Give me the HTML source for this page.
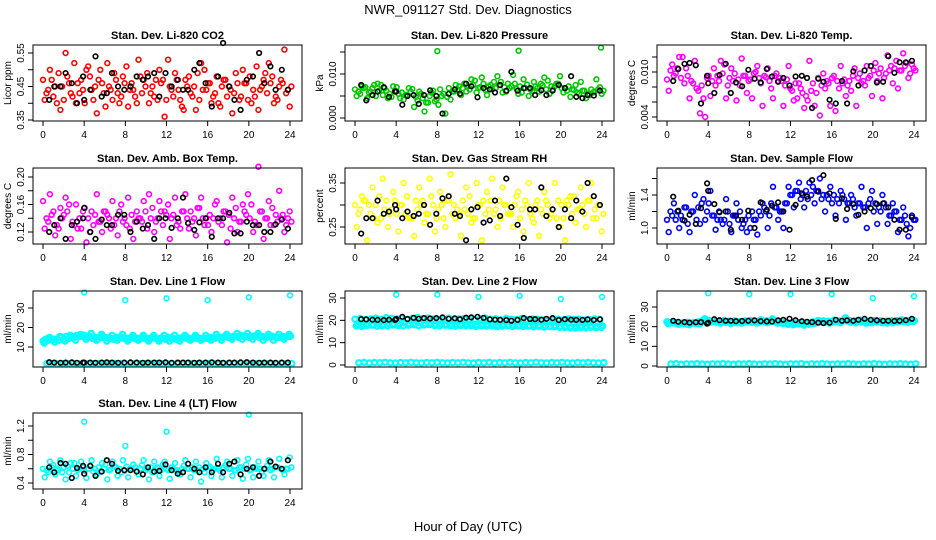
<!DOCTYPE html>
<html><head><meta charset="utf-8">
<style>
body{margin:0;background:#fff;}
svg{display:block;font-family:"Liberation Sans",sans-serif;}
</style></head>
<body>
<svg id="chart" width="936" height="540" viewBox="0 0 936 540" xmlns="http://www.w3.org/2000/svg">
<rect width="936" height="540" fill="#fff"/>
<text x="468" y="14" text-anchor="middle" font-size="13">NWR_091127  Std. Dev. Diagnostics</text>
<text x="468" y="531" text-anchor="middle" font-size="13">Hour of Day (UTC)</text>
</svg>
<script>
// ---------- data ----------
const hourTicks = [0,4,8,12,16,20,24];
const blackHours = [0.6,1.1,1.7,2.2,2.8,3.3,3.9,4.0,4.6,5.1,5.7,6.2,6.7,7.3,7.9,8.5,9.1,9.7,10.2,10.8,11.3,11.9,12.5,13.1,13.6,14.1,14.7,15.2,15.8,16.4,17.0,17.5,18.1,18.6,19.2,19.8,20.4,21.0,21.5,22.1,22.6,23.2,23.8];

const co2A = [0.47,0.44,0.42,0.49,0.41,0.46,0.52,0.43,0.40,0.48,0.45,0.50,0.39,0.44,0.47,0.42,0.51,0.46,0.40,0.43,0.49,0.45,0.41,0.47,0.53,0.42,0.44,0.38,0.48,0.45,0.41,0.50,0.46,0.43,0.39,0.47,0.44,0.49,0.42,0.46,0.40,0.51,0.45,0.43,0.48,0.41,0.46,0.44];
const co2B = [0.41,0.50,0.45,0.38,0.55,0.43,0.40,0.47,0.50,0.44,0.37,0.46,0.52,0.41,0.43,0.48,0.39,0.44,0.53,0.47,0.40,0.42,0.50,0.36,0.45,0.49,0.41,0.47,0.43,0.38,0.52,0.44,0.40,0.48,0.45,0.42,0.37,0.46,0.50,0.41,0.44,0.38,0.47,0.52,0.40,0.45,0.56,0.39];
const co2C = [0.43,0.47,0.40,0.45,0.48,0.42,0.46,0.44,0.51,0.41,0.47,0.43,0.45,0.49,0.40,0.46,0.44,0.42,0.48,0.45,0.43,0.47,0.46,0.41,0.44,0.47,0.39,0.45,0.42,0.49,0.44,0.46,0.42,0.40,0.47,0.45,0.43,0.41,0.46,0.48,0.42,0.44,0.49,0.46,0.42,0.47,0.43,0.45];
const co2Black = [0.41,0.45,0.45,0.49,0.46,0.40,0.48,0.41,0.44,0.54,0.42,0.43,0.49,0.45,0.44,0.45,0.48,0.47,0.48,0.49,0.42,0.49,0.45,0.47,0.44,0.44,0.50,0.52,0.46,0.39,0.48,0.58,0.45,0.41,0.38,0.47,0.48,0.55,0.46,0.51,0.44,0.50,0.44];

const presA = [0.0065,0.0055,0.007,0.006,0.005,0.0075,0.0062,0.0048,0.007,0.0058,0.0052,0.0066,0.004,0.0045,0.0035,0.0062,0.003,0.0055,0.0068,0.006,0.0072,0.0078,0.0065,0.0085,0.007,0.0064,0.0075,0.0068,0.0082,0.006,0.0072,0.0066,0.0058,0.0076,0.0062,0.0068,0.0074,0.0085,0.0065,0.0078,0.0058,0.0072,0.0064,0.0055,0.0062,0.0052,0.006,0.007];
const presB = [0.005,0.0072,0.0045,0.0068,0.0078,0.0052,0.0045,0.0072,0.0055,0.0042,0.0068,0.0025,0.006,0.0015,0.005,0.0038,0.0065,0.001,0.0042,0.0075,0.0052,0.006,0.0088,0.0058,0.0092,0.0052,0.0065,0.0095,0.0058,0.0078,0.0098,0.0055,0.0088,0.005,0.0082,0.006,0.0092,0.0055,0.0072,0.0095,0.0068,0.0048,0.0075,0.0082,0.0045,0.0065,0.0088,0.0055];
const presC = [0.006,0.0068,0.0058,0.0075,0.0062,0.0068,0.0055,0.0062,0.0045,0.0052,0.006,0.0048,0.0055,0.0035,0.0058,0.0042,0.005,0.0048,0.006,0.0065,0.0068,0.0072,0.0075,0.0068,0.0078,0.0072,0.0082,0.0075,0.007,0.0068,0.0078,0.0072,0.0068,0.0065,0.0072,0.0078,0.0065,0.0072,0.0078,0.0068,0.0062,0.0065,0.0058,0.0062,0.0055,0.0058,0.0065,0.0062];
const presBlack = [0.0075,0.004,0.0052,0.006,0.007,0.0048,0.006,0.006,0.003,0.005,0.0052,0.0032,0.0052,0.0063,0.005,0.001,0.0055,0.0065,0.0055,0.0078,0.0072,0.0047,0.0068,0.0065,0.0058,0.0075,0.0062,0.0105,0.0062,0.0068,0.0068,0.0052,0.0063,0.0052,0.0062,0.0075,0.0068,0.0095,0.0048,0.0045,0.0052,0.0051,0.0062];
const presOutHours = [8,15.9,23.9];
const presOutVals = [0.0152,0.0153,0.016];

const tempA = [0.009,0.011,0.0105,0.012,0.0095,0.0085,0.0075,0.0065,0.0095,0.0105,0.0088,0.011,0.0092,0.0098,0.0082,0.0095,0.009,0.01,0.0085,0.0093,0.0078,0.0098,0.0088,0.009,0.0075,0.0065,0.0072,0.0062,0.0085,0.0092,0.0098,0.0085,0.0095,0.0078,0.009,0.0088,0.0105,0.0098,0.0082,0.0095,0.0112,0.0105,0.0098,0.0108,0.0115,0.0102,0.0112,0.011];
const tempB = [0.0075,0.0095,0.012,0.0085,0.0065,0.0115,0.0045,0.004,0.0068,0.0082,0.0115,0.0065,0.0105,0.0062,0.0118,0.0072,0.0065,0.0108,0.0055,0.0105,0.0065,0.0088,0.0055,0.0108,0.0062,0.0085,0.0052,0.0115,0.0055,0.0042,0.0078,0.0055,0.0048,0.0108,0.0068,0.0075,0.0055,0.0085,0.0108,0.0068,0.0088,0.0065,0.0122,0.0085,0.0078,0.0125,0.0092,0.0105];
const tempC = [0.0102,0.0098,0.0092,0.0105,0.0088,0.0078,0.0082,0.0092,0.0088,0.0095,0.0098,0.0082,0.0088,0.009,0.0095,0.0088,0.0098,0.0092,0.0095,0.0088,0.0095,0.0092,0.0082,0.0078,0.0085,0.0078,0.0068,0.0075,0.0072,0.0082,0.0088,0.0092,0.0088,0.0085,0.0082,0.0095,0.0092,0.0088,0.0092,0.0102,0.0098,0.0092,0.0102,0.0105,0.0102,0.0108,0.0098,0.0102];
const tempBlack = [0.0088,0.0104,0.0111,0.0112,0.0109,0.0058,0.0095,0.0085,0.0072,0.0096,0.0111,0.0072,0.0086,0.0081,0.0103,0.0091,0.0086,0.0104,0.0094,0.0087,0.0092,0.0082,0.0094,0.0095,0.0092,0.0052,0.0091,0.0087,0.0063,0.0058,0.0088,0.0058,0.0101,0.0082,0.0102,0.0108,0.0086,0.0087,0.0121,0.0099,0.0113,0.0113,0.0115];

const ambA = [0.165,0.135,0.15,0.125,0.145,0.16,0.13,0.14,0.155,0.12,0.145,0.135,0.15,0.125,0.14,0.16,0.13,0.145,0.15,0.135,0.125,0.155,0.14,0.13,0.16,0.145,0.135,0.15,0.125,0.14,0.155,0.13,0.145,0.16,0.14,0.15,0.125,0.155,0.135,0.145,0.16,0.13,0.15,0.14,0.155,0.135,0.145,0.14];
const ambB = [0.125,0.175,0.115,0.155,0.17,0.11,0.16,0.125,0.105,0.15,0.175,0.12,0.145,0.165,0.115,0.135,0.17,0.11,0.14,0.165,0.175,0.12,0.165,0.15,0.11,0.17,0.125,0.175,0.15,0.115,0.17,0.14,0.12,0.165,0.13,0.105,0.17,0.12,0.16,0.175,0.12,0.215,0.11,0.165,0.13,0.18,0.12,0.15];
const ambC = [0.14,0.145,0.13,0.14,0.15,0.135,0.125,0.15,0.14,0.13,0.135,0.15,0.14,0.13,0.15,0.14,0.125,0.135,0.14,0.15,0.14,0.135,0.15,0.145,0.14,0.13,0.15,0.14,0.135,0.155,0.14,0.13,0.14,0.135,0.15,0.145,0.14,0.135,0.15,0.14,0.135,0.15,0.14,0.13,0.145,0.14,0.13,0.135];
const ambBlack = [0.12,0.13,0.14,0.11,0.13,0.135,0.14,0.155,0.12,0.11,0.138,0.13,0.13,0.145,0.145,0.12,0.135,0.125,0.13,0.11,0.14,0.14,0.126,0.14,0.17,0.133,0.123,0.134,0.14,0.113,0.14,0.14,0.148,0.118,0.118,0.135,0.13,0.13,0.12,0.12,0.131,0.138,0.125];

const rhA = [0.3,0.29,0.31,0.28,0.3,0.27,0.31,0.29,0.28,0.3,0.32,0.27,0.29,0.31,0.28,0.3,0.29,0.27,0.31,0.3,0.28,0.29,0.32,0.27,0.3,0.28,0.31,0.29,0.27,0.3,0.28,0.32,0.29,0.3,0.27,0.31,0.28,0.3,0.29,0.31,0.27,0.3,0.32,0.29,0.28,0.31,0.29,0.3];
const rhB = [0.25,0.32,0.22,0.34,0.26,0.36,0.25,0.33,0.24,0.35,0.27,0.23,0.34,0.26,0.36,0.24,0.33,0.25,0.37,0.27,0.23,0.34,0.26,0.35,0.22,0.33,0.36,0.25,0.34,0.28,0.25,0.33,0.24,0.35,0.26,0.23,0.33,0.27,0.35,0.25,0.22,0.32,0.26,0.34,0.25,0.35,0.27,0.24];
const rhC = [0.28,0.31,0.3,0.27,0.32,0.29,0.28,0.31,0.3,0.28,0.27,0.31,0.3,0.28,0.32,0.27,0.3,0.31,0.28,0.29,0.31,0.28,0.27,0.3,0.31,0.29,0.28,0.31,0.3,0.28,0.3,0.27,0.31,0.28,0.3,0.29,0.31,0.28,0.27,0.3,0.31,0.28,0.29,0.3,0.31,0.27,0.3,0.28];
const rhBlack = [0.235,0.27,0.27,0.31,0.28,0.285,0.3,0.29,0.27,0.285,0.275,0.28,0.3,0.255,0.28,0.315,0.32,0.28,0.275,0.22,0.29,0.295,0.26,0.265,0.31,0.275,0.36,0.295,0.255,0.225,0.29,0.29,0.34,0.275,0.29,0.25,0.29,0.27,0.31,0.285,0.35,0.32,0.3];

const flowA = [1.1,1.15,1.2,1.1,1.05,1.2,1.25,1.35,1.3,1.15,1.2,1.1,1.05,1.15,1.2,1.1,1.0,1.1,1.15,1.2,1.3,1.25,1.2,1.3,1.4,1.45,1.4,1.35,1.5,1.45,1.4,1.35,1.4,1.3,1.35,1.3,1.25,1.3,1.25,1.35,1.3,1.2,1.25,1.15,1.2,1.1,1.05,1.15];
const flowB = [0.95,1.3,1.0,1.25,0.95,1.4,1.05,1.1,1.45,0.98,1.1,1.35,0.95,1.3,1.0,0.95,1.2,0.92,1.3,1.0,1.5,1.1,1.0,1.5,1.25,1.55,1.25,1.55,1.3,1.6,1.2,1.5,1.15,1.45,1.1,1.4,1.15,1.5,1.0,1.45,1.05,1.4,1.05,1.3,0.95,1.25,0.9,1.1];
const flowC = [1.2,1.1,1.15,1.25,1.2,1.1,1.3,1.2,1.15,1.1,1.05,1.2,1.15,1.1,1.05,1.15,1.1,1.2,1.25,1.15,1.25,1.2,1.3,1.4,1.45,1.35,1.45,1.4,1.45,1.35,1.4,1.3,1.35,1.4,1.3,1.35,1.3,1.25,1.3,1.2,1.25,1.3,1.15,1.2,1.1,1.15,1.0,1.1];
const flowBlack = [1.38,1.21,1.09,1.16,1.05,1.24,1.54,1.45,1.29,1.19,1.2,0.98,1.15,1.1,1.21,1.0,1.31,1.22,1.27,1.31,1.2,0.98,1.28,1.42,1.38,1.58,1.44,1.64,1.42,1.11,1.36,1.23,1.29,1.16,1.2,1.24,1.29,1.3,1.25,1.1,0.98,0.98,1.13];

const line1A = [13,13.5,14,13.5,14,14.5,15,15.5,16,15.5,15,15.5,15,14.5,15,15,14.5,15,14.5,15,14.5,15,14,14.5,15,14.5,14.5,15,14.5,15,14.5,14.5,15,14.5,15,15.5,15,15.5,16,15.5,15.5,16,15.5,15,15.5,15,15.5,15.5];
const line1B = [12,15,12.5,15.5,13,16,13.5,16.5,14,17,13.5,16.5,13,16,13.5,16.5,13,16,13.5,16,13,16,13,16,13,16,13,16,13.5,16,13.5,16,13.5,16.5,13.5,16.5,14,17,14,17,14,17,13.5,16.5,13.5,16.5,14,16.5];
const line1C = [14,14.5,14,15,15.5,15,16,15.5,15,14.5,14,15,14.5,14,14.5,14.5,14,14.5,14,14.5,14,14.5,14.5,14,14.5,14,14.5,14.5,14,14.5,14,14.5,14.5,15,15,15,15.5,15,15.5,15,15.5,15,15,15.5,15,15,15,15.5];
const line1Low = [1.5,1.6,1.4,1.5,1.6,1.5,1.4,1.6,1.5,1.5,1.6,1.4,1.5,1.6,1.5,1.4,1.5,1.6,1.5,1.5,1.4,1.6,1.5,1.5,1.5,1.6,1.4,1.5,1.6,1.5,1.4,1.6,1.5,1.5,1.6,1.4,1.5,1.6,1.5,1.4,1.5,1.6,1.5,1.5,1.4,1.6,1.5,1.5];
const line1Black = [2.2,2.0,1.9,2.0,2.1,1.9,2.0,2.0,2.0,1.9,2.0,2.1,2.0,1.9,2.0,2.1,2.0,1.9,2.0,2.0,2.0,2.1,1.9,2.0,2.0,2.0,1.9,2.0,2.0,2.1,2.0,1.9,2.0,2.0,2.1,2.2,2.0,1.9,2.0,2.0,1.9,2.0,2.0];
const line1OutHours = [4,8,12,16,20,24];
const line1OutVals = [38,34,35,34,35.5,36.5];

const line2A = [20.5,20.8,20.3,20.6,21.0,20.5,21.2,20.8,20.6,21.0,20.4,20.9,21.3,20.7,21.0,20.5,20.2,20.6,21.0,20.4,20.6,20.8,20.5,20.4,20.7,21.0,20.5,20.6,20.2,20.8,20.5,20.4,20.8,20.3,20.6,20.5,20.2,20.0,20.3,20.5,20.2,20.6,20.4,20.5,20.1,20.3,20.6,20.4];
const line2B = [17.5,17.3,17.6,17.8,17.4,17.6,17.5,17.9,17.7,17.5,17.8,18.0,17.6,17.9,18.1,17.7,17.5,17.8,17.6,17.4,17.7,17.5,17.6,17.3,17.6,17.4,17.5,17.2,17.4,17.6,17.3,17.5,17.2,17.4,17.1,17.3,17.0,17.2,17.1,16.9,16.8,16.6,16.5,16.8,16.6,16.9,16.7,16.8];
const line2C = [18.2,18.0,18.4,18.1,18.5,18.2,18.6,18.3,18.5,18.8,18.4,18.6,18.9,18.5,18.7,18.3,18.5,18.2,18.4,18.0,18.3,18.1,18.4,18.0,18.2,18.0,18.3,17.9,18.1,17.8,18.0,17.8,17.9,17.6,17.8,17.5,17.7,17.4,17.6,17.3,17.4,17.2,17.3,17.5,17.2,17.4,17.3,17.5];
const line2Low = [1.0,1.2,0.9,1.1,1.0,1.2,1.0,0.9,1.1,1.0,1.2,1.0,0.9,1.1,1.0,1.2,1.0,0.9,1.1,1.0,1.2,1.0,0.9,1.1,1.0,1.2,0.9,1.1,1.0,1.2,1.0,0.9,1.1,1.0,1.2,1.0,0.9,1.1,1.0,1.2,1.0,0.9,1.1,1.0,1.2,1.0,0.9,1.1];
const line2Black = [20.5,20.4,20.3,20.2,20.1,20.3,20.2,20.6,21.6,20.6,21.1,20.7,21.0,20.8,21.0,21.3,20.7,20.9,20.5,21.2,21.3,21.6,21.1,20.4,20.3,20.2,20.1,19.8,20.2,21.0,20.6,20.5,20.3,20.7,21.0,20.1,20.5,20.3,20.2,20.2,20.4,20.1,20.4];
const line2OutHours = [4,8,12,16,20,24];
const line2OutVals = [31.5,31.5,30.5,31,29.5,30.5];

const line3A = [22.5,22.3,22.0,21.8,22.2,22.0,22.5,23.5,23.2,23.0,22.8,23.2,22.8,23.0,22.6,23.0,23.2,22.8,23.5,23.0,23.2,22.8,22.6,22.3,22.0,22.2,21.8,22.0,22.5,23.2,23.0,22.8,23.3,23.0,23.5,23.2,23.0,23.3,22.8,23.0,23.2,23.0,22.8,23.0,23.2,23.5,23.2,23.6];
const line3B = [21.5,22.0,21.2,21.6,21.0,21.8,21.4,24.0,22.2,22.5,21.8,22.2,21.6,22.0,21.8,22.5,22.2,21.8,22.6,22.0,24.0,21.8,21.6,21.2,21.0,21.4,20.8,21.2,21.6,22.4,22.2,21.8,22.4,22.0,24.5,22.2,22.0,22.4,21.8,22.0,22.4,22.0,21.8,22.0,22.4,22.6,22.2,22.6];
const line3C = [22.0,21.8,21.6,21.5,21.7,21.6,22.0,22.8,22.6,22.4,22.2,22.6,22.2,22.4,22.0,22.4,22.6,22.2,22.8,22.4,22.6,22.2,22.0,21.8,21.5,21.7,21.3,21.5,22.0,22.7,22.5,22.3,22.8,22.5,23.0,22.7,22.5,22.8,22.3,22.5,22.7,22.5,22.3,22.5,22.7,23.0,22.7,23.0];
const line3Low = [1.0,1.2,0.9,1.1,1.0,1.2,1.0,0.9,1.1,1.0,1.2,1.0,0.9,1.1,1.0,1.2,1.0,0.9,1.1,1.0,1.2,1.0,0.9,1.1,1.0,1.2,0.9,1.1,1.0,1.2,1.0,0.9,1.1,1.0,1.2,1.0,0.9,1.1,1.0,1.2,1.0,0.9,1.1,1.0,1.2,1.0,0.9,1.1];
const line3Black = [23.0,22.5,22.3,22.0,22.2,22.3,21.5,22.0,23.8,23.3,23.0,23.0,22.8,22.9,23.0,23.2,22.8,22.7,22.6,23.2,23.5,24.0,23.3,22.8,22.5,22.3,22.0,21.8,22.0,23.5,23.0,23.2,23.0,23.5,24.0,23.5,23.2,23.0,23.0,22.9,23.0,23.3,24.0];
const line3OutHours = [4,8,12,16,20,24];
const line3OutVals = [37,36.5,36.5,36.5,34.5,35.5];

const line4A = [0.6,0.55,0.65,0.58,0.62,0.55,0.68,0.6,0.57,0.64,0.6,0.56,0.66,0.59,0.62,0.55,0.63,0.6,0.57,0.65,0.6,0.55,0.62,0.66,0.58,0.6,0.56,0.64,0.6,0.58,0.62,0.55,0.63,0.6,0.57,0.65,0.6,0.58,0.62,0.66,0.59,0.6,0.56,0.64,0.6,0.62,0.58,0.6];
const line4B = [0.48,0.7,0.52,0.72,0.45,0.68,0.5,0.7,0.47,0.72,0.52,0.68,0.45,0.7,0.5,0.72,0.48,0.66,0.52,0.72,0.45,0.7,0.5,0.7,0.46,0.68,0.52,0.72,0.48,0.7,0.42,0.68,0.5,0.74,0.48,0.7,0.5,0.72,0.46,0.74,0.48,0.7,0.5,0.72,0.48,0.74,0.52,0.76];
const line4C = [0.58,0.62,0.6,0.55,0.64,0.6,0.58,0.62,0.6,0.56,0.62,0.6,0.58,0.64,0.6,0.57,0.6,0.62,0.6,0.58,0.62,0.6,0.58,0.6,0.62,0.58,0.6,0.6,0.62,0.58,0.6,0.62,0.58,0.6,0.62,0.6,0.58,0.62,0.6,0.58,0.62,0.6,0.6,0.58,0.62,0.6,0.6,0.62];
const line4Black = [0.62,0.55,0.68,0.67,0.47,0.61,0.64,0.53,0.64,0.5,0.56,0.72,0.67,0.57,0.58,0.58,0.56,0.52,0.62,0.56,0.57,0.66,0.58,0.53,0.55,0.67,0.6,0.55,0.62,0.55,0.67,0.55,0.67,0.7,0.52,0.6,0.62,0.5,0.6,0.7,0.63,0.6,0.72];
const line4OutHours = [4,8,12,20];
const line4OutVals = [1.26,0.92,1.12,1.36];

const co2Ticks = [0.35,0.40,0.45,0.50,0.55];      const co2Labels = ["0.35","","0.45","","0.55"];
const presTicks = [0,0.005,0.010,0.015];          const presLabels = ["0.000","","0.010",""];
const tempTicks = [0.004,0.006,0.008,0.010,0.012]; const tempLabels = ["0.004","","","0.010",""];
const ambTicks = [0.12,0.14,0.16,0.18,0.20];       const ambLabels = ["0.12","","0.16","","0.20"];
const rhTicks = [0.25,0.30,0.35];                  const rhLabels = ["0.25","","0.35"];
const flowTicks = [1.0,1.2,1.4,1.6];               const flowLabels = ["1.0","","1.4",""];
const l1Ticks = [10,20,30];                        const l1Labels = ["10","20","30"];
const l23Ticks = [0,10,20,30];                     const l23Labels = ["0","10","20","30"];
const l4Ticks = [0.4,0.6,0.8,1.0,1.2];             const l4Labels = ["0.4","","0.8","","1.2"];

// ---------- drawing ----------
const svg = document.getElementById('chart');
const NS = 'http://www.w3.org/2000/svg';
function mk(tag, attrs){ const e=document.createElementNS(NS,tag); for(const k in attrs) e.setAttribute(k,attrs[k]); svg.appendChild(e); return e; }

const panels = [
 {key:'co2', title:'Stan. Dev. Li-820 CO2', ylab:'Licor ppm', col:0,row:0, a:[0.55,53], b:[0.35,120], color:'#ff0000', series:[co2A,co2B,co2C], black:co2Black, ticks:co2Ticks, labels:co2Labels},
 {key:'pressure', title:'Stan. Dev. Li-820 Pressure', ylab:'kPa', col:1,row:0, a:[0.010,74], b:[0,118], color:'#00c800', series:[presA,presB,presC], black:presBlack, outH:presOutHours, outV:presOutVals, ticks:presTicks, labels:presLabels},
 {key:'temp', title:'Stan. Dev. Li-820 Temp.', ylab:'degrees C', col:2,row:0, a:[0.010,72], b:[0.004,117], color:'#ff00ff', series:[tempA,tempB,tempC], black:tempBlack, ticks:tempTicks, labels:tempLabels},
 {key:'amb-temp', title:'Stan. Dev. Amb. Box Temp.', ylab:'degrees C', col:0,row:1, a:[0.20,177], b:[0.12,232], color:'#ff00ff', series:[ambA,ambB,ambC], black:ambBlack, ticks:ambTicks, labels:ambLabels},
 {key:'rh', title:'Stan. Dev. Gas Stream RH', ylab:'percent', col:1,row:1, a:[0.35,183], b:[0.25,227], color:'#ffff00', series:[rhA,rhB,rhC], black:rhBlack, ticks:rhTicks, labels:rhLabels},
 {key:'sample-flow', title:'Stan. Dev. Sample Flow', ylab:'ml/min', col:2,row:1, a:[1.4,195], b:[1.0,228], color:'#0000ff', series:[flowA,flowB,flowC], black:flowBlack, ticks:flowTicks, labels:flowLabels},
 {key:'line1', title:'Stan. Dev. Line 1 Flow', ylab:'ml/min', col:0,row:2, a:[30,308], b:[10,347], color:'#00ffff', series:[line1A,line1B,line1C,line1Low], black:line1Black, outH:line1OutHours, outV:line1OutVals, ticks:l1Ticks, labels:l1Labels},
 {key:'line2', title:'Stan. Dev. Line 2 Flow', ylab:'ml/min', col:1,row:2, a:[30,298], b:[0,365], color:'#00ffff', series:[line2A,line2B,line2C,line2Low], black:line2Black, outH:line2OutHours, outV:line2OutVals, ticks:l23Ticks, labels:l23Labels},
 {key:'line3', title:'Stan. Dev. Line 3 Flow', ylab:'ml/min', col:2,row:2, a:[30,307], b:[0,366], color:'#00ffff', series:[line3A,line3B,line3C,line3Low], black:line3Black, outH:line3OutHours, outV:line3OutVals, ticks:l23Ticks, labels:l23Labels},
 {key:'line4', title:'Stan. Dev. Line 4 (LT) Flow', ylab:'ml/min', col:0,row:3, a:[1.2,426], b:[0.4,483], color:'#00ffff', series:[line4A,line4B,line4C], black:line4Black, outH:line4OutHours, outV:line4OutVals, ticks:l4Ticks, labels:l4Labels}
];
const rowTop=[45,168,291,413], rowBot=[121,244,367,489];

function dot(x,y,color,name,r,sw){
  const c = mk('circle',{cx:x.toFixed(1),cy:y.toFixed(1),r:r||2.4,fill:'none',stroke:color,'stroke-width':sw||1.6});
  
  
}

panels.forEach(p=>{
  const L=33+312*p.col, R=302+312*p.col, T=rowTop[p.row], B=rowBot[p.row];
  const xs = h => 43+312*p.col + h*(247/24);
  const ys = v => p.a[1] + (v-p.a[0])*(p.b[1]-p.a[1])/(p.b[0]-p.a[0]);
  const isLine = p.key.indexOf('line')===0 && p.key!=='line4';
  const t = mk('text',{x:(L+R)/2,y:T-6,'text-anchor':'middle','font-size':11,'font-weight':'bold'});
  t.textContent=p.title;
  
  
  const ns = p.series.length;
  p.series.forEach((arr,si)=>{
    const n=arr.length;
    arr.forEach((v,i)=>{
      const h = (i + si/ns) * 24/(n-0.6);
      dot(xs(h), ys(v), p.color, p.key+'-point', isLine?2.6:2.4, isLine?2.2:1.6);
    });
  });
  if(p.outH) p.outH.forEach((h,i)=>dot(xs(h), ys(p.outV[i]), p.color, p.key+'-outlier-point'));
  const m=Math.min(blackHours.length,p.black.length);
  for(let i=0;i<m;i++) dot(xs(blackHours[i]), ys(p.black[i]), '#000', p.key+'-black-point', 2.3, 1.6);
  const f = mk('rect',{x:L,y:T,width:R-L,height:B-T,fill:'none',stroke:'#000','stroke-width':1});
  
  
  hourTicks.forEach(h=>{
    const x=xs(h);
    const tk=mk('line',{x1:x,x2:x,y1:B,y2:B+5,stroke:'#000'});
    
    
    const tl=mk('text',{x:x,y:B+17,'text-anchor':'middle','font-size':10});
    tl.textContent=h;
    
    
  });
  mk('line',{x1:xs(0),x2:xs(24),y1:B,y2:B,stroke:'#000'});
  p.ticks.forEach((v,i)=>{
    const y=ys(v);
    const tk=mk('line',{x1:L-5,x2:L,y1:y,y2:y,stroke:'#000'});
    
    
    if(p.labels[i]){
      const tl=mk('text',{x:L-9,y:y,'text-anchor':'middle','font-size':10,transform:`rotate(-90 ${L-9} ${y})`});
      tl.textContent=p.labels[i];
      
      
    }
  });
  const yt=mk('text',{x:L-22,y:(T+B)/2,'text-anchor':'middle','font-size':10,transform:`rotate(-90 ${L-22} ${(T+B)/2})`});
  yt.textContent=p.ylab;
  
  
});
</script>
</body></html>
